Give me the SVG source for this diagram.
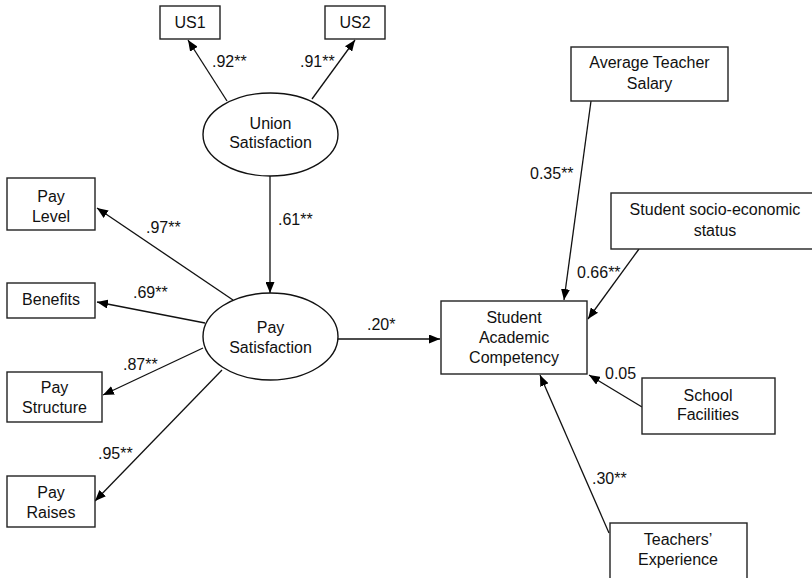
<svg xmlns="http://www.w3.org/2000/svg" width="812" height="578" viewBox="0 0 812 578">
<style>
text{font-family:"Liberation Sans",Arial,sans-serif;font-size:16px;fill:#111;}
.c{text-anchor:middle;}
.box{fill:#fff;stroke:#222;stroke-width:1.4;}
.ell{fill:#fff;stroke:#111;stroke-width:1.4;}
.con line{stroke:#111;stroke-width:1.3;marker-end:url(#ah);}
</style>
<defs>
<marker id="ah" markerUnits="userSpaceOnUse" markerWidth="11" markerHeight="9" refX="11" refY="4.5" orient="auto">
<path d="M0,0 L11,4.5 L0,9 z" fill="#000"/>
</marker>
</defs>
<rect width="812" height="578" fill="#fff"/>
<g id="connectors" class="con">
<line x1="227" y1="101" x2="188" y2="40"/>
<line x1="312" y1="99" x2="355" y2="40"/>
<line x1="270" y1="176" x2="270" y2="293"/>
<line x1="233" y1="300" x2="97" y2="208"/>
<line x1="205" y1="323" x2="97" y2="302"/>
<line x1="203" y1="348" x2="103" y2="395"/>
<line x1="222" y1="370" x2="95" y2="501"/>
<line x1="338" y1="339" x2="440" y2="339"/>
<line x1="591" y1="101" x2="564" y2="300"/>
<line x1="639" y1="249" x2="588" y2="319"/>
<line x1="642" y1="407" x2="589" y2="375"/>
<line x1="609" y1="533" x2="540" y2="375"/>
</g>
<g id="labels">
<text x="212" y="67">.92**</text>
<text x="300" y="67">.91**</text>
<text x="278" y="225">.61**</text>
<text x="146" y="233">.97**</text>
<text x="133" y="298">.69**</text>
<text x="367" y="330">.20*</text>
<text x="123" y="370">.87**</text>
<text x="98" y="459">.95**</text>
<text x="530" y="179">0.35**</text>
<text x="577" y="278">0.66**</text>
<text x="605" y="379">0.05</text>
<text x="592" y="484">.30**</text>
</g>
<g id="us1"><rect class="box" x="160" y="6" width="60" height="33"/><text class="c" x="190" y="28">US1</text></g>
<g id="us2"><rect class="box" x="325" y="6" width="60" height="33"/><text class="c" x="355" y="28">US2</text></g>
<g id="union"><ellipse class="ell" cx="270.5" cy="134.5" rx="67.5" ry="41.5"/><text class="c" x="270.5" y="129">Union</text><text class="c" x="270.5" y="148">Satisfaction</text></g>
<g id="paysat"><ellipse class="ell" cx="270.5" cy="336.5" rx="67.5" ry="43.5"/><text class="c" x="270.5" y="333">Pay</text><text class="c" x="270.5" y="353">Satisfaction</text></g>
<g id="paylevel"><rect class="box" x="7" y="178" width="88" height="52"/><text class="c" x="51" y="202">Pay</text><text class="c" x="51" y="222">Level</text></g>
<g id="benefits"><rect class="box" x="7" y="283" width="88" height="35"/><text class="c" x="51" y="305">Benefits</text></g>
<g id="paystructure"><rect class="box" x="7" y="372" width="95" height="50"/><text class="c" x="54.5" y="393">Pay</text><text class="c" x="54.5" y="413">Structure</text></g>
<g id="payraises"><rect class="box" x="7" y="476" width="88" height="51"/><text class="c" x="51" y="498">Pay</text><text class="c" x="51" y="518">Raises</text></g>
<g id="sac"><rect class="box" x="441" y="301" width="146" height="73"/><text class="c" x="514" y="323">Student</text><text class="c" x="514" y="343">Academic</text><text class="c" x="514" y="363">Competency</text></g>
<g id="ats"><rect class="box" x="571" y="47" width="157" height="54"/><text class="c" x="649.5" y="68">Average Teacher</text><text class="c" x="649.5" y="89">Salary</text></g>
<g id="ses"><rect class="box" x="611" y="193" width="210" height="56"/><text class="c" x="715" y="215">Student socio-economic</text><text class="c" x="715" y="236">status</text></g>
<g id="sf"><rect class="box" x="642" y="378" width="133" height="56"/><text class="c" x="708" y="401">School</text><text class="c" x="708" y="420">Facilities</text></g>
<g id="te"><rect class="box" x="610" y="523" width="137" height="70"/><text class="c" x="678" y="545">Teachers’</text><text class="c" x="678" y="565">Experience</text></g>
</svg>
